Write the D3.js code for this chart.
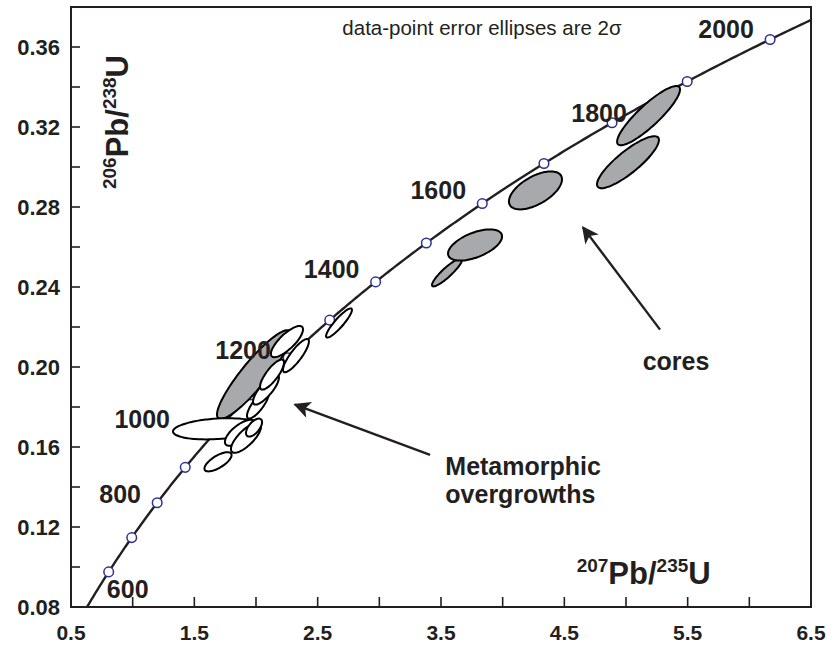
<!DOCTYPE html>
<html>
<head>
<meta charset="utf-8">
<script src="https://cdn.jsdelivr.net/npm/d3@7"></script>
<style>
  body { margin: 0; background: #fff; }
  text { font-family: "Liberation Sans", Arial, sans-serif; fill: #231f20; }
</style>
</head>
<body>
<div id="chart"></div>
<script>
// concordia ages with a marker (Ma)
const markerAges = [600, 700, 800, 900, 1000, 1100, 1200, 1300, 1400, 1500, 1600, 1700, 1800, 1900, 2000]
const labelAges = [600, 800, 1000, 1200, 1400, 1600, 1800, 2000]

// axis ticks
const xTicks = [0.5, 1.5, 2.5, 3.5, 4.5, 5.5, 6.5]
const xMinor = [1.0, 2.0, 3.0, 4.0, 5.0, 6.0]
const yTicks = [0.08, 0.12, 0.16, 0.20, 0.24, 0.28, 0.32, 0.36]
const yMinor = [0.10, 0.14, 0.18, 0.22, 0.26, 0.30, 0.34]

// cores: 207Pb/235U, 206Pb/238U, 2s errors and correlation
const coreX   = [1.984, 3.549, 3.776, 4.266, 5.016, 5.183]
const coreY   = [0.1962, 0.2473, 0.2610, 0.2883, 0.3024, 0.3257]
const coreSx  = [0.300, 0.122, 0.219, 0.215, 0.251, 0.255]
const coreSy  = [0.0222, 0.0070, 0.0078, 0.0095, 0.0130, 0.0148]
const coreRho = [0.90, 0.90, 0.55, 0.58, 0.85, 0.88]

// metamorphic overgrowths
const rimX   = [1.684, 1.692, 1.870, 1.919, 1.984, 2.016, 2.081, 2.130, 2.673, 2.251, 2.324]
const rimY   = [0.1691, 0.1526, 0.1671, 0.1646, 0.1697, 0.1812, 0.1887, 0.1962, 0.2220, 0.2127, 0.2057]
const rimSx  = [0.357, 0.110, 0.122, 0.122, 0.065, 0.089, 0.105, 0.097, 0.105, 0.130, 0.105]
const rimSy  = [0.0053, 0.0048, 0.0065, 0.0075, 0.0045, 0.0070, 0.0075, 0.0075, 0.0073, 0.0078, 0.0083]
const rimRho = [0.25, 0.70, 0.70, 0.75, 0.60, 0.80, 0.80, 0.80, 0.90, 0.78, 0.85]

const L238 = 1.55125e-10
const L235 = 9.8485e-10
const conc = t => ({ x: Math.exp(L235 * t * 1e6) - 1, y: Math.exp(L238 * t * 1e6) - 1 })

const W = 834, H = 655
const margin = { top: 7, right: 23, bottom: 48, left: 71 }
const width = W - margin.left - margin.right
const height = H - margin.top - margin.bottom

const svg = d3.select("#chart").append("svg").attr("width", W).attr("height", H)
const g = svg.append("g").attr("transform", `translate(${margin.left},${margin.top})`)

const x = d3.scaleLinear().domain([0.5, 6.5]).range([0, width])
const y = d3.scaleLinear().domain([0.08, 0.38]).range([height, 0])

svg.append("defs").append("clipPath").attr("id", "plot")
  .append("rect").attr("width", width).attr("height", height)

const plot = g.append("g").attr("clip-path", "url(#plot)")

// concordia curve
const curvePts = d3.range(480, 2080, 5).map(conc)
plot.append("path")
  .datum(curvePts)
  .attr("fill", "none")
  .attr("stroke", "#231f20")
  .attr("stroke-width", 2.4)
  .attr("d", d3.line().x(d => x(d.x)).y(d => y(d.y)))

plot.selectAll(".mark")
  .data(markerAges)
  .join("circle")
  .attr("class", "mark")
  .attr("cx", d => x(conc(d).x))
  .attr("cy", d => y(conc(d).y))
  .attr("r", 4.8)
  .attr("fill", "#fff")
  .attr("stroke", "#2e3192")
  .attr("stroke-width", 1.5)

// error ellipse outline from 2s errors and rho
function ellipse(cx, cy, sx, sy, rho) {
  const k = Math.sqrt(1 - rho * rho)
  return d3.range(0, 72).map(i => {
    let a = i / 72 * 2 * Math.PI
    return [x(cx + sx * Math.cos(a)), y(cy + sy * (rho * Math.cos(a) + k * Math.sin(a)))]
  })
}
const ell = d3.line().curve(d3.curveCardinalClosed)

const cores = coreX.map((v, i) => ellipse(v, coreY[i], coreSx[i], coreSy[i], coreRho[i]))
const rims = rimX.map((v, i) => ellipse(v, rimY[i], rimSx[i], rimSy[i], rimRho[i]))

plot.selectAll(".core")
  .data(cores)
  .join("path")
  .attr("class", "core")
  .attr("d", ell)
  .attr("fill", "#a7a9ac")
  .attr("stroke", "#000")
  .attr("stroke-width", 2)

plot.selectAll(".rim")
  .data(rims)
  .join("path")
  .attr("class", "rim")
  .attr("d", ell)
  .attr("fill", "#fff")
  .attr("stroke", "#000")
  .attr("stroke-width", 2)

// age labels, offset from their markers
const labelOffsets = [[19, 17], [-37, -9], [-74, -12], [-45, -8], [-44, -13], [-44, -14], [-13, -10], [-44, -10]]
g.selectAll(".age")
  .data(labelAges)
  .join("text")
  .attr("class", "age")
  .attr("x", (d, i) => x(conc(d).x) + labelOffsets[i][0])
  .attr("y", (d, i) => y(conc(d).y) + labelOffsets[i][1] + 9)
  .attr("text-anchor", "middle")
  .style("font-size", "25px")
  .style("font-weight", "bold")
  .text(d => d)

// frame and ticks
g.append("rect")
  .attr("width", width).attr("height", height)
  .attr("fill", "none").attr("stroke", "#231f20").attr("stroke-width", 2)

g.selectAll(".xt")
  .data(xTicks.concat(xMinor))
  .join("line")
  .attr("x1", d => x(d)).attr("x2", d => x(d))
  .attr("y1", height).attr("y2", height - 10)
  .attr("stroke", "#231f20").attr("stroke-width", 1.6)

g.selectAll(".yt")
  .data(yTicks.concat(yMinor))
  .join("line")
  .attr("y1", d => y(d)).attr("y2", d => y(d))
  .attr("x1", 0).attr("x2", 9)
  .attr("stroke", "#231f20").attr("stroke-width", 1.6)

g.selectAll(".xl")
  .data(xTicks)
  .join("text")
  .attr("x", d => x(d))
  .attr("y", height + 33)
  .attr("text-anchor", "middle")
  .style("font-size", "21px")
  .style("font-weight", "bold")
  .text(d => d3.format(".1f")(d))

g.selectAll(".yl")
  .data(yTicks)
  .join("text")
  .attr("x", -11)
  .attr("y", d => y(d) + 8)
  .attr("text-anchor", "end")
  .style("font-size", "22px")
  .style("font-weight", "bold")
  .text(d => d3.format(".2f")(d))

// axis titles with superscripts
function isoLabel(sel, a, b) {
  sel.style("font-weight", "bold")
  sel.append("tspan").style("font-size", "19px").attr("dy", -12).text(a)
  sel.append("tspan").style("font-size", "31px").attr("dy", 12).text("Pb/")
  sel.append("tspan").style("font-size", "19px").attr("dy", -12).text(b)
  sel.append("tspan").style("font-size", "31px").attr("dy", 12).text("U")
}
g.append("text")
  .attr("x", x(4.6)).attr("y", y(0.0915))
  .call(isoLabel, "207", "235")

g.append("text")
  .attr("transform", `translate(${x(0.96)},${y(0.3225)}) rotate(-90)`)
  .attr("text-anchor", "middle")
  .call(isoLabel, "206", "238")

g.append("text")
  .attr("x", x(2.7)).attr("y", y(0.366))
  .style("font-size", "20.5px")
  .text("data-point error ellipses are 2σ")

// annotations
g.append("text")
  .attr("x", x(5.135)).attr("y", y(0.1985))
  .style("font-size", "25px").style("font-weight", "bold")
  .text("cores")

const meta = g.append("text")
  .attr("x", x(3.535)).attr("y", y(0.146))
  .style("font-size", "25px").style("font-weight", "bold")
meta.append("tspan").text("Metamorphic")
meta.append("tspan").attr("x", x(3.535)).attr("dy", 28).text("overgrowths")

svg.select("defs").append("marker")
  .attr("id", "head")
  .attr("viewBox", "0 0 10 10")
  .attr("refX", 9).attr("refY", 5)
  .attr("markerWidth", 9).attr("markerHeight", 7)
  .attr("markerUnits", "strokeWidth")
  .attr("orient", "auto")
  .append("path").attr("d", "M0,0L10,5L0,10L2.5,5z").attr("fill", "#231f20")

const arrows = [[5.276, 0.2187, 4.651, 0.2698], [3.411, 0.1561, 2.316, 0.1812]]
g.selectAll(".arrow")
  .data(arrows)
  .join("line")
  .attr("x1", d => x(d[0])).attr("y1", d => y(d[1]))
  .attr("x2", d => x(d[2])).attr("y2", d => y(d[3]))
  .attr("stroke", "#231f20").attr("stroke-width", 2.4)
  .attr("marker-end", "url(#head)")
</script>
</body>
</html>
